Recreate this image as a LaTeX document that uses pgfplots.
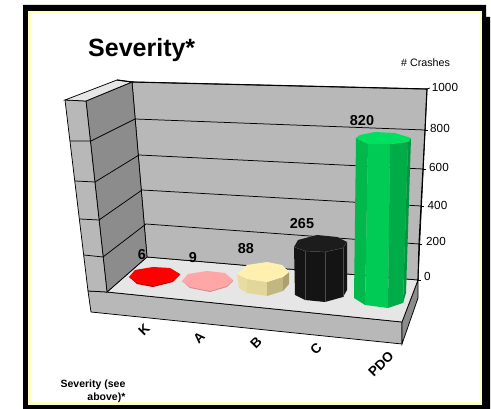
\documentclass[border=0pt]{standalone}
\usepackage{pgfplots}
\usepackage{pgfplotstable}
\usepackage{fontspec}
\setmainfont{Liberation Sans}
\pgfplotsset{compat=1.18}
\definecolor{wallg}{HTML}{B8B8B8}
\definecolor{walld}{HTML}{8C8C8C}
\definecolor{floorg}{HTML}{E6E6E6}
\definecolor{yel}{HTML}{FFFFC4}
% value labels: x y value (bar heights as read: K 6, A 9, B 88, C 265, PDO 820)
\pgfplotstableread{
x y label
142 255 6
193 258 9
246 249 88
302 224 265
362 121 820
}\valuelabels
\pgfplotstableread{
x y label
144 330 K
199 338 A
256 343 B
316 349 C
381 364 PDO
}\catlabels
\pgfplotstableread{
x y label
445 87 1000
440 128 800
439 167 600
437.5 205 400
436 241 200
427.5 276 0
}\ticklabels
\tikzset{gl/.style={draw=black,line width=0.75pt,mark=none,solid}}
\begin{document}
\begin{tikzpicture}
\begin{axis}[
  scale only axis, width=491pt, height=409pt,
  xmin=0,xmax=491,ymin=0,ymax=409,y dir=reverse,
  hide axis, clip=true,
  every axis plot/.append style={mark=none},
]
% page and frame
\addplot[fill=white,draw=none] coordinates {(0,0)(491,0)(491,409)(0,409)} --cycle;
\addplot[fill=black,draw=none] coordinates {(23,5)(486,5)(486,17)(490,17)(490,409)(23,409)} --cycle;
\addplot[fill=yel,draw=none] coordinates {(28,11)(482,11)(482,405)(28,405)} --cycle;
\addplot[fill=white,draw=none] coordinates {(31,13)(480,13)(480,402)(31,402)} --cycle;
% plinth
\addplot[fill=wallg,gl] coordinates {(88,291)(107,292)(402,322)(402,344)(91,312)} --cycle;
\addplot[fill=walld,gl] coordinates {(402,322)(418,280)(418,298)(402,344)} --cycle;
% floor
\addplot[fill=floorg,gl] coordinates {(147,257)(418,280)(402,322)(107,292)} --cycle;
% back wall
\addplot[fill=wallg,gl] coordinates {(132,82)(427,89)(418,280)(147,257)} --cycle;
% left wall
\addplot[fill=walld,gl] coordinates {(132,82)(86,101)(107,292)(147,257)} --cycle;
\addplot[fill=wallg,gl] coordinates {(65,100)(86,101)(107,292)(88,291)} --cycle;
\addplot[fill=floorg,gl] coordinates {(65,100)(117,80)(132,82)(86,101)} --cycle;
% grid, back wall
\addplot[gl] coordinates {(135,119)(425,130)};
\addplot[gl] coordinates {(139,155)(423,169)};
\addplot[gl] coordinates {(142,190)(421,206)};
\addplot[gl] coordinates {(146,224)(419,244)};
% grid, left wall
\addplot[gl] coordinates {(70,141)(91,141)(135,119)};
\addplot[gl] coordinates {(75,181)(95,182)(139,155)};
\addplot[gl] coordinates {(80,219)(99,220)(142,190)};
\addplot[gl] coordinates {(84,255)(103,257)(146,224)};
% right wall edge, top edge, ticks
\addplot[draw=black,line width=1.1pt] coordinates {(117,80)(132,82)(427,89)(425,130)(423,169)(421,206)(419,244)(418,280)};
\addplot[gl] coordinates {(427,89)(430,88)};
\addplot[gl] coordinates {(425,130)(428,130)};
\addplot[gl] coordinates {(423,169)(426,169)};
\addplot[gl] coordinates {(421,206)(424,206)};
\addplot[gl] coordinates {(419,244)(422,244)};
\addplot[gl] coordinates {(418,280)(421,280)};
% K = 6
\addplot[fill=red!70!black,draw=none] coordinates {(129,277)(137,284)(153,287)(173,282)(180,275)(180,274)(129,277)} --cycle;
\addplot[fill=red,draw=none] coordinates {(129,277)(135,270)(153,267)(170,268)(180,274)(173,281)(153,286)(137,283)} --cycle;
% A = 9
\addplot[fill={rgb,255:red,205;green,140;blue,140},draw=none] coordinates {(182,281)(190,288)(210,292)(227,287)(233,281)(233,280)} --cycle;
\addplot[fill={rgb,255:red,255;green,166;blue,166},draw=none] coordinates {(182,281)(188,274)(207,271)(225,273)(233,280)(227,286)(210,291)(190,287)} --cycle;
% B = 88
\addplot[fill={rgb,255:red,232;green,221;blue,160},draw=none] coordinates {(237,274)(239,288)(247,293)(247,279)} --cycle;
\addplot[fill={rgb,255:red,226;green,215;blue,154},draw=none] coordinates {(247,279)(247,293)(267,296)(267,282)} --cycle;
\addplot[fill={rgb,255:red,194;green,183;blue,128},draw=none] coordinates {(267,282)(267,296)(283,291)(283,277)} --cycle;
\addplot[fill={rgb,255:red,172;green,160;blue,110},draw=none] coordinates {(283,277)(283,291)(289,284)(289,272)} --cycle;
\addplot[fill={rgb,255:red,255;green,240;blue,176},draw=none] coordinates {(237,274)(247,265)(267,262)(282,265)(289,272)(283,277)(267,282)(247,279)} --cycle;
% C = 265
\addplot[fill={rgb,255:red,20;green,20;blue,20},draw=none] coordinates {(294,247)(295,295)(305,300)(325,302)(343,297)(347,290)(347,242)(343,248)(325,252)(305,251)} --cycle;
\addplot[fill={rgb,255:red,28;green,28;blue,28},draw=none] coordinates {(294,247)(298,240)(317,235)(337,237)(347,242)(343,248)(325,252)(305,251)} --cycle;
\addplot[draw=black!70,line width=0.3pt] coordinates {(294,247)(305,251)(325,252)(343,248)(347,242)};
\addplot[draw=black!70,line width=0.3pt] coordinates {(305,251)(305,300)};
\addplot[draw=black!70,line width=0.3pt] coordinates {(325,252)(325,302)};
\addplot[draw=black!70,line width=0.3pt] coordinates {(343,248)(343,297)};
% PDO = 820
\addplot[fill={rgb,255:red,0;green,184;blue,76},draw=none] coordinates {(356,138)(354,298)(365,305)(368,144)} --cycle;
\addplot[fill={rgb,255:red,0;green,204;blue,85},draw=none] coordinates {(368,144)(365,305)(388,308)(390,144)} --cycle;
\addplot[fill={rgb,255:red,0;green,172;blue,72},draw=none] coordinates {(390,144)(388,308)(403,303)(408,142)} --cycle;
\addplot[fill={rgb,255:red,0;green,150;blue,64},draw=none] coordinates {(408,142)(403,303)(406,293)(411,138)} --cycle;
\addplot[fill={rgb,255:red,0;green,224;blue,96},draw=none] coordinates {(356,138)(360,135)(375,132)(395,133)(411,138)(408,142)(390,144)(368,144)} --cycle;
% labels
\addplot[draw=none,nodes near coords,point meta=explicit symbolic,
  every node near coord/.append style={anchor=center,inner sep=0pt,font=\fontsize{14.4}{16}\bfseries}]
  table[meta=label] {\valuelabels};
\addplot[draw=none,nodes near coords,point meta=explicit symbolic,
  every node near coord/.append style={anchor=center,inner sep=0pt,rotate=45,font=\fontsize{13.5}{16}\bfseries}]
  table[meta=label] {\catlabels};
\addplot[draw=none,nodes near coords,point meta=explicit symbolic,
  every node near coord/.append style={anchor=center,inner sep=0pt,font=\fontsize{11.7}{14}\selectfont}]
  table[meta=label] {\ticklabels};
\node[anchor=base west,inner sep=0pt,font=\fontsize{25}{30}\bfseries] at (axis cs:88,57) {Severity*};
\node[anchor=center,inner sep=0pt,font=\fontsize{10.7}{13}\selectfont] at (axis cs:425.5,63) {\# Crashes};
\node[anchor=center,inner sep=0pt,align=right,font=\fontsize{10.5}{13}\bfseries] at (axis cs:93,391) {Severity (see\\above)*};
\end{axis}
\end{tikzpicture}
\end{document}
